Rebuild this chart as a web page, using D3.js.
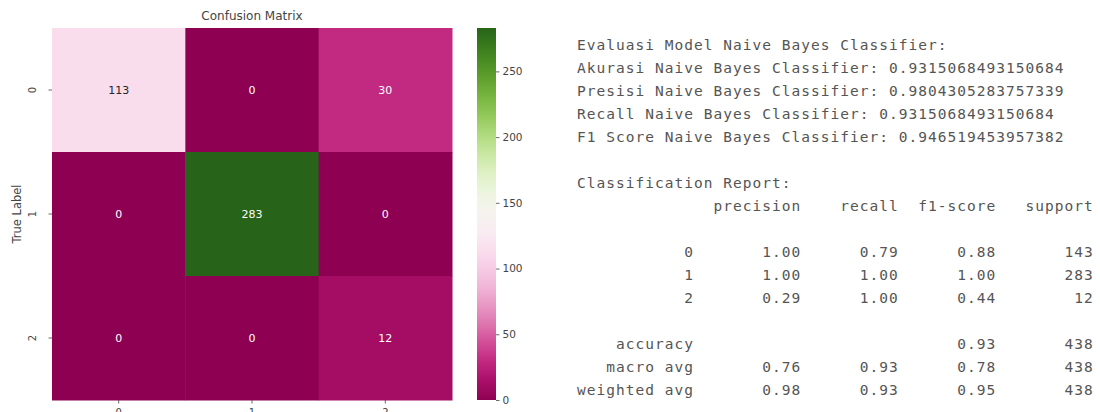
<!DOCTYPE html>
<html lang="en">
<head>
<meta charset="UTF-8">
<title>Confusion Matrix</title>
<script src="https://d3js.org/d3.v7.min.js"></script>
<style>
    body {margin: 0; background: #fff;}
    svg text {font-family: "DejaVu Sans", sans-serif;}
    .mono {
        font-family: "DejaVu Sans Mono", monospace;
        font-size: 14.5px;
        letter-spacing: 1.02px;
        fill: #555;
        white-space: pre;
    }
</style>
</head>
<body>
<script>
    const width = 1100;
    const height = 412;

    // confusion matrix data
    const classes = ["0", "1", "2"];
    const matrix = [
        [113, 0, 30],
        [0, 283, 0],
        [0, 0, 12]
    ];
    const colorTicks = [0, 50, 100, 150, 200, 250];

    // printed evaluation output
    const summaryLines = [
        "Evaluasi Model Naive Bayes Classifier:",
        "Akurasi Naive Bayes Classifier: 0.9315068493150684",
        "Presisi Naive Bayes Classifier: 0.9804305283757339",
        "Recall Naive Bayes Classifier: 0.9315068493150684",
        "F1 Score Naive Bayes Classifier: 0.946519453957382"
    ];
    const reportHeaders = ["precision", "recall", "f1-score", "support"];
    const reportNames = ["0", "1", "2", "accuracy", "macro avg", "weighted avg"];
    const precisionVals = [1.00, 1.00, 0.29, null, 0.76, 0.98];
    const recallVals    = [0.79, 1.00, 1.00, null, 0.93, 0.93];
    const f1Vals        = [0.88, 1.00, 0.44, 0.93, 0.78, 0.95];
    const supportVals   = [143, 283, 12, 438, 438, 438];

    const svg = d3.select("body").append("svg")
            .attr("width", width).attr("height", height);

    // ---------- heatmap ----------
    const hm = {left: 52, top: 28, width: 400, height: 372};

    const x = d3.scaleBand().domain(classes).range([hm.left, hm.left + hm.width]);
    const y = d3.scaleBand().domain(classes).range([hm.top, hm.top + hm.height]);

    const vmax = d3.max(matrix.flat());
    const color = d3.scaleSequential(d3.interpolatePiYG).domain([0, vmax]);

    const cells = [];
    matrix.forEach((row, i) => row.forEach((v, j) => cells.push({r: classes[i], c: classes[j], v: v})));

    svg.selectAll("rect.cell")
            .data(cells)
            .enter().append("rect")
            .attr("class", "cell")
            .attr("x", d => x(d.c))
            .attr("y", d => y(d.r))
            .attr("width", x.bandwidth() + 0.5)
            .attr("height", y.bandwidth() + 0.5)
            .style("fill", d => color(d.v));

    svg.selectAll("text.annot")
            .data(cells)
            .enter().append("text")
            .attr("class", "annot")
            .attr("x", d => x(d.c) + x.bandwidth() / 2)
            .attr("y", d => y(d.r) + y.bandwidth() / 2)
            .attr("text-anchor", "middle")
            .attr("dominant-baseline", "central")
            .style("font-size", "11px")
            .style("fill", d => {
                const t = d.v / vmax;
                return (t > 0.3 && t < 0.7) ? "#262626" : "#ffffff";
            })
            .text(d => d.v);

    // y axis (rotated tick labels)
    const yAxis = svg.append("g").attr("transform", `translate(${hm.left},0)`);
    yAxis.selectAll("line")
            .data(classes)
            .enter().append("line")
            .attr("x1", -3.5).attr("x2", 0)
            .attr("y1", d => y(d) + y.bandwidth() / 2)
            .attr("y2", d => y(d) + y.bandwidth() / 2)
            .style("stroke", "#444").style("stroke-width", 0.8);
    yAxis.selectAll("text")
            .data(classes)
            .enter().append("text")
            .attr("transform", d => `translate(-16,${y(d) + y.bandwidth() / 2}) rotate(-90)`)
            .attr("text-anchor", "middle")
            .style("font-size", "10px")
            .style("fill", "#444")
            .text(d => d);

    svg.append("text")
            .attr("transform", `translate(21,${hm.top + hm.height / 2}) rotate(-90)`)
            .attr("text-anchor", "middle")
            .style("font-size", "11.5px")
            .style("fill", "#444")
            .text("True Label");

    // x axis (mostly cut off at the bottom, as in the original)
    const xAxis = svg.append("g").attr("transform", `translate(0,${hm.top + hm.height})`);
    xAxis.selectAll("line")
            .data(classes)
            .enter().append("line")
            .attr("y1", 0).attr("y2", 3.5)
            .attr("x1", d => x(d) + x.bandwidth() / 2)
            .attr("x2", d => x(d) + x.bandwidth() / 2)
            .style("stroke", "#444").style("stroke-width", 0.8);
    xAxis.selectAll("text")
            .data(classes)
            .enter().append("text")
            .attr("x", d => x(d) + x.bandwidth() / 2)
            .attr("y", 16)
            .attr("text-anchor", "middle")
            .style("font-size", "10px")
            .style("fill", "#444")
            .text(d => d);

    svg.append("text")
            .attr("x", hm.left + hm.width / 2)
            .attr("y", 20)
            .attr("text-anchor", "middle")
            .style("font-size", "12px")
            .style("fill", "#444")
            .text("Confusion Matrix");

    // ---------- colorbar ----------
    const cb = {left: 477, width: 19};
    const cbScale = d3.scaleLinear().domain([0, vmax]).range([hm.top + hm.height, hm.top]);

    const defs = svg.append("defs");
    const grad = defs.append("linearGradient").attr("id", "cbgrad")
            .attr("x1", 0).attr("x2", 0).attr("y1", 1).attr("y2", 0);
    grad.selectAll("stop")
            .data(d3.range(0, 1.0001, 0.05))
            .enter().append("stop")
            .attr("offset", d => d)
            .attr("stop-color", d => color(d * vmax));

    svg.append("rect")
            .attr("x", cb.left).attr("y", hm.top)
            .attr("width", cb.width).attr("height", hm.height)
            .style("fill", "url(#cbgrad)");

    const cbAxis = d3.axisRight(cbScale).tickValues(colorTicks).tickSize(3.5).tickPadding(3);
    svg.append("g")
            .attr("transform", `translate(${cb.left + cb.width},0)`)
            .call(cbAxis)
            .call(g => g.select(".domain").remove())
            .call(g => g.selectAll("line").style("stroke", "#444").style("stroke-width", 0.8))
            .call(g => g.selectAll("text").style("font-size", "10.5px").style("fill", "#444")
                    .style("font-family", "DejaVu Sans, sans-serif"));

    // ---------- printed text output ----------
    const fmt = d3.format(".2f");
    const col = v => " " + String(v).padStart(9);
    const reportLines = [];
    reportLines.push(" ".repeat(12) + " " + reportHeaders.map(col).join(""));
    reportLines.push("");
    reportNames.forEach((name, i) => {
        if (name === "accuracy") reportLines.push("");
        const p = precisionVals[i] == null ? "" : fmt(precisionVals[i]);
        const r = recallVals[i] == null ? "" : fmt(recallVals[i]);
        reportLines.push(name.padStart(12) + " " + col(p) + col(r) + col(fmt(f1Vals[i])) + col(supportVals[i]));
    });

    const allLines = summaryLines.concat([""], ["Classification Report:"], reportLines);

    const textX = 577;
    const lineY = d3.scaleLinear().domain([0, 1]).range([50, 73]);

    svg.append("g").selectAll("text")
            .data(allLines)
            .enter().append("text")
            .attr("class", "mono")
            .attr("x", textX)
            .attr("y", (d, i) => lineY(i))
            .attr("xml:space", "preserve")
            .text(d => d);
</script>
</body>
</html>
